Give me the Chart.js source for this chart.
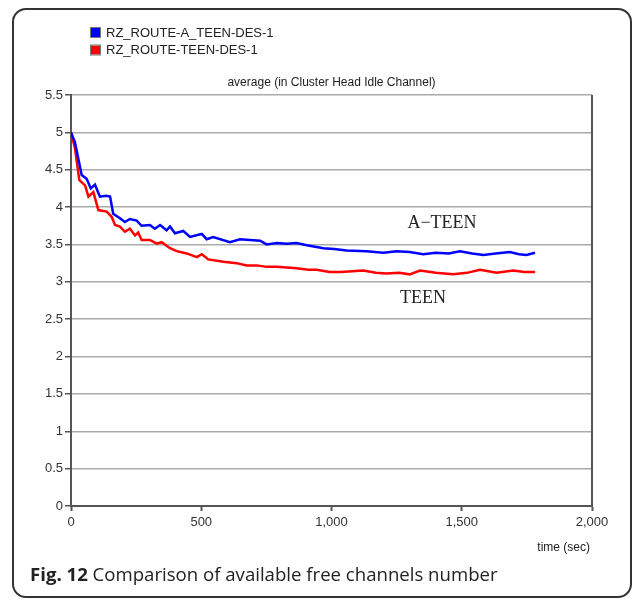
<!DOCTYPE html>
<html>
<head>
<meta charset="utf-8">
<script src="https://cdn.jsdelivr.net/npm/chart.js@4.4.1/dist/chart.umd.min.js"></script>
<style>
  body { margin: 0; background: #fff; }
  #wrap { position: relative; width: 637px; height: 601px; }
  #frame {
    position: absolute; left: 12px; top: 8px; width: 620px; height: 590px;
    box-sizing: border-box; border: 2px solid #333; border-radius: 14px;
  }
  #chart { position: absolute; left: 0; top: 0; }
  #caption {
    position: absolute; left: 30px; top: 561px;
    font-family: "Open Sans", sans-serif; font-size: 18.6px; color: #222;
  }
  #caption b { font-weight: 700; }
</style>
</head>
<body>
<div id="wrap">
  <div id="frame"></div>
  <canvas id="chart" width="637" height="601"></canvas>
  <div id="caption"><b>Fig. 12</b> Comparison of available free channels number</div>
</div>
<script>
// séries
var seriesNames = ["RZ_ROUTE-A_TEEN-DES-1", "RZ_ROUTE-TEEN-DES-1"];
var seriesColors = ["#0000ff", "#ff0000"];

var aTeenTime = [0, 15, 28, 41, 60, 76, 92, 111, 134, 150, 162, 188, 207, 226, 252, 271, 303, 322, 342, 367, 380, 399, 431, 457, 489, 502, 521, 546, 610, 649, 687, 726, 751, 790, 828, 866, 905, 969, 1010, 1058, 1135, 1199, 1250, 1300, 1352, 1400, 1450, 1493, 1540, 1583, 1630, 1685, 1720, 1749, 1781];
var aTeenValues = [5.0, 4.87, 4.65, 4.43, 4.38, 4.25, 4.30, 4.14, 4.15, 4.14, 3.91, 3.85, 3.80, 3.84, 3.82, 3.75, 3.76, 3.71, 3.76, 3.69, 3.74, 3.65, 3.68, 3.60, 3.63, 3.64, 3.57, 3.60, 3.53, 3.57, 3.56, 3.55, 3.50, 3.52, 3.51, 3.52, 3.49, 3.45, 3.44, 3.42, 3.41, 3.39, 3.41, 3.40, 3.37, 3.39, 3.38, 3.41, 3.38, 3.36, 3.38, 3.40, 3.37, 3.36, 3.39];

var teenTime = [0, 15, 32, 54, 67, 86, 105, 137, 156, 169, 188, 207, 226, 246, 258, 271, 303, 329, 348, 380, 406, 444, 483, 502, 527, 585, 636, 674, 713, 751, 790, 828, 866, 911, 943, 993, 1033, 1080, 1122, 1170, 1212, 1260, 1300, 1340, 1400, 1467, 1520, 1570, 1634, 1698, 1740, 1781];
var teenValues = [5.0, 4.79, 4.36, 4.29, 4.14, 4.20, 3.96, 3.94, 3.87, 3.76, 3.74, 3.67, 3.71, 3.62, 3.66, 3.56, 3.56, 3.51, 3.53, 3.45, 3.41, 3.38, 3.33, 3.37, 3.30, 3.27, 3.25, 3.22, 3.22, 3.20, 3.20, 3.19, 3.18, 3.16, 3.16, 3.13, 3.13, 3.14, 3.15, 3.12, 3.11, 3.12, 3.10, 3.15, 3.12, 3.10, 3.12, 3.16, 3.12, 3.15, 3.13, 3.13];

var xTickLabels = ["0", "500", "1,000", "1,500", "2,000"];
var yTickLabels = ["0", "0.5", "1", "1.5", "2", "2.5", "3", "3.5", "4", "4.5", "5", "5.5"];
var chartTitle = "average (in Cluster Head Idle Channel)";
var xTitle = "time (sec)";

// rótulos dentro do gráfico (texto, posição em unidades dos eixos)
var notes = [
  { text: "A\u2212TEEN", x: 1424, y: 3.78 },
  { text: "TEEN", x: 1351, y: 2.78 }
];

function pares(xs, ys) {
  var out = [];
  for (var i = 0; i < xs.length; i++) out.push({ x: xs[i], y: ys[i] });
  return out;
}

// desenha moldura, legenda, título e notas
var extras = {
  id: "extras",
  afterDraw: function(chart) {
    var ctx = chart.ctx, a = chart.chartArea;
    var xs = chart.scales.x, ys = chart.scales.y;
    ctx.save();

    // borda direita do quadro
    ctx.strokeStyle = "#555";
    ctx.lineWidth = 2;
    ctx.beginPath();
    ctx.moveTo(a.right, a.top);
    ctx.lineTo(a.right, a.bottom);
    ctx.stroke();

    // legenda
    ctx.font = "13px 'Liberation Sans', Arial, sans-serif";
    ctx.textBaseline = "middle";
    ctx.textAlign = "left";
    for (var i = 0; i < seriesNames.length; i++) {
      var ly = 32.5 + i * 17.5;
      ctx.fillStyle = seriesColors[i];
      ctx.fillRect(91, ly - 4.5, 9, 9);
      ctx.strokeStyle = "#777";
      ctx.lineWidth = 1;
      ctx.strokeRect(90.5, ly - 5, 10, 10);
      ctx.fillStyle = "#222";
      ctx.fillText(seriesNames[i], 106, ly + 0.5);
    }

    // título
    ctx.font = "12px 'Liberation Sans', Arial, sans-serif";
    ctx.textAlign = "center";
    ctx.fillStyle = "#222";
    ctx.fillText(chartTitle, (a.left + a.right) / 2, a.top - 12);

    // título do eixo x
    ctx.textAlign = "right";
    ctx.fillText(xTitle, a.right - 2, 548);

    // notas
    ctx.font = "18px 'Liberation Serif', 'Times New Roman', serif";
    ctx.textAlign = "center";
    ctx.fillStyle = "#222";
    notes.forEach(function(n) {
      ctx.fillText(n.text, xs.getPixelForValue(n.x), ys.getPixelForValue(n.y));
    });

    ctx.restore();
  }
};

var chart = new Chart(document.getElementById("chart"), {
  type: "line",
  data: {
    datasets: [
      {
        label: seriesNames[0],
        data: pares(aTeenTime, aTeenValues),
        borderColor: seriesColors[0],
        borderWidth: 2.5,
        pointRadius: 0,
        tension: 0
      },
      {
        label: seriesNames[1],
        data: pares(teenTime, teenValues),
        borderColor: seriesColors[1],
        borderWidth: 2.5,
        pointRadius: 0,
        tension: 0
      }
    ]
  },
  options: {
    responsive: false,
    animation: false,
    layout: { padding: { left: 0, top: 95, right: 45, bottom: 65 } },
    plugins: {
      legend: { display: false },
      tooltip: { enabled: false }
    },
    scales: {
      x: {
        type: "linear",
        min: 0,
        max: 2000,
        afterFit: function(s) { s.height = 30; },
        afterBuildTicks: function(s) {
          s.ticks = xTickLabels.map(function(t, i) { return { value: i * 500 }; });
        },
        ticks: {
          callback: function(v, i) { return xTickLabels[i]; },
          color: "#333",
          font: { family: "'Liberation Sans', Arial, sans-serif", size: 13 },
          padding: 4,
          maxRotation: 0
        },
        grid: { drawOnChartArea: false, drawTicks: true, tickLength: 5, tickColor: "#555", tickWidth: 2 },
        border: { color: "#555", width: 2 }
      },
      y: {
        min: 0,
        max: 5.5,
        afterFit: function(s) { s.width = 71; },
        afterBuildTicks: function(s) {
          s.ticks = yTickLabels.map(function(t, i) { return { value: i * 0.5 }; });
        },
        ticks: {
          callback: function(v, i) { return yTickLabels[i]; },
          color: "#333",
          font: { family: "'Liberation Sans', Arial, sans-serif", size: 13 },
          padding: 2
        },
        grid: { color: "#aaa", lineWidth: 1.5, tickLength: 6, tickColor: "#555", tickWidth: 1.5 },
        border: { color: "#555", width: 2 }
      }
    }
  },
  plugins: [extras]
});
</script>
</body>
</html>
